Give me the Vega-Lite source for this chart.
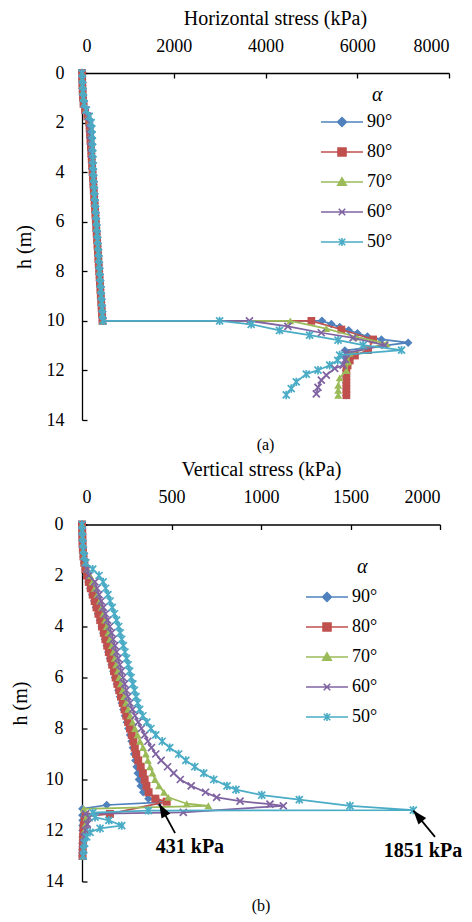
{
"$schema":"https://vega.github.io/schema/vega-lite/v6.json",
"background":"white",
"padding":{"left":10,"top":8,"right":4,"bottom":2},
"spacing":6.5,
"align":"none",
"resolve":{"scale":{"fill":"independent","stroke":"independent","shape":"independent"},"legend":{"fill":"independent","stroke":"independent","shape":"independent"}},
"config":{
 "font":"Liberation Serif",
 "view":{"stroke":null},
 "axis":{"grid":false,"domainColor":"#000","domainWidth":1.3,"tickColor":"#000","tickWidth":1.3,"tickSize":-5,"labelColor":"#000","labelFontSize":18,"titleColor":"#000","titleFontSize":20,"titleFontWeight":"normal","labelFont":"Liberation Serif","titleFont":"Liberation Serif"},
 "legend":{"titleFontStyle":"italic","titleFontSize":20,"titleFontWeight":"normal","titleColor":"#000","titleFont":"Liberation Serif","labelFont":"Liberation Serif","labelFontSize":18,"labelColor":"#000","symbolSize":441,"symbolStrokeWidth":1.6,"labelOffset":24,"rowPadding":9,"titlePadding":0,"symbolOpacity":1},
 "title":{"fontSize":16,"fontWeight":"normal","color":"#000","font":"Liberation Serif","orient":"bottom"}
},
"datasets":{
 "ha":[
{"a":"90°","h":0,"s":0},{"a":"90°","h":0.25,"s":4},{"a":"90°","h":0.5,"s":9},{"a":"90°","h":0.75,"s":15},{"a":"90°","h":1,"s":22},{"a":"90°","h":1.25,"s":35},{"a":"90°","h":1.5,"s":70},{"a":"90°","h":1.75,"s":120},{"a":"90°","h":2,"s":160},{"a":"90°","h":2.25,"s":169},{"a":"90°","h":2.5,"s":178},{"a":"90°","h":2.75,"s":187},{"a":"90°","h":3,"s":196},{"a":"90°","h":3.25,"s":205},{"a":"90°","h":3.5,"s":214},{"a":"90°","h":3.75,"s":223},{"a":"90°","h":4,"s":232},{"a":"90°","h":4.25,"s":241},{"a":"90°","h":4.5,"s":250},{"a":"90°","h":4.75,"s":259},{"a":"90°","h":5,"s":268},{"a":"90°","h":5.25,"s":277},{"a":"90°","h":5.5,"s":286},{"a":"90°","h":5.75,"s":295},{"a":"90°","h":6,"s":304},{"a":"90°","h":6.25,"s":313},{"a":"90°","h":6.5,"s":322},{"a":"90°","h":6.75,"s":331},{"a":"90°","h":7,"s":340},{"a":"90°","h":7.25,"s":349},{"a":"90°","h":7.5,"s":358},{"a":"90°","h":7.75,"s":367},{"a":"90°","h":8,"s":376},{"a":"90°","h":8.25,"s":385},{"a":"90°","h":8.5,"s":394},{"a":"90°","h":8.75,"s":403},{"a":"90°","h":9,"s":412},{"a":"90°","h":9.25,"s":421},{"a":"90°","h":9.5,"s":430},{"a":"90°","h":9.75,"s":439},{"a":"90°","h":10,"s":448},
{"a":"90°","h":10,"s":5230},{"a":"90°","h":10.13,"s":5435},{"a":"90°","h":10.25,"s":5617},{"a":"90°","h":10.38,"s":5814},{"a":"90°","h":10.5,"s":6004},{"a":"90°","h":10.63,"s":6222},{"a":"90°","h":10.75,"s":6528},{"a":"90°","h":10.88,"s":7110},{"a":"90°","h":11.2,"s":5730},{"a":"90°","h":11.5,"s":5745},{"a":"90°","h":11.75,"s":5750},{"a":"90°","h":12,"s":5755},{"a":"90°","h":12.25,"s":5760},{"a":"90°","h":12.5,"s":5760},{"a":"90°","h":12.75,"s":5760},{"a":"90°","h":13,"s":5760},
{"a":"80°","h":0,"s":0},{"a":"80°","h":0.25,"s":3},{"a":"80°","h":0.5,"s":8},{"a":"80°","h":0.75,"s":14},{"a":"80°","h":1,"s":20},{"a":"80°","h":1.25,"s":33},{"a":"80°","h":1.5,"s":66},{"a":"80°","h":1.75,"s":115},{"a":"80°","h":2,"s":156},{"a":"80°","h":2.25,"s":166},{"a":"80°","h":2.5,"s":175},{"a":"80°","h":2.75,"s":184},{"a":"80°","h":3,"s":193},{"a":"80°","h":3.25,"s":202},{"a":"80°","h":3.5,"s":211},{"a":"80°","h":3.75,"s":220},{"a":"80°","h":4,"s":229},{"a":"80°","h":4.25,"s":238},{"a":"80°","h":4.5,"s":247},{"a":"80°","h":4.75,"s":256},{"a":"80°","h":5,"s":265},{"a":"80°","h":5.25,"s":274},{"a":"80°","h":5.5,"s":283},{"a":"80°","h":5.75,"s":292},{"a":"80°","h":6,"s":301},{"a":"80°","h":6.25,"s":310},{"a":"80°","h":6.5,"s":319},{"a":"80°","h":6.75,"s":328},{"a":"80°","h":7,"s":337},{"a":"80°","h":7.25,"s":346},{"a":"80°","h":7.5,"s":355},{"a":"80°","h":7.75,"s":364},{"a":"80°","h":8,"s":373},{"a":"80°","h":8.25,"s":382},{"a":"80°","h":8.5,"s":391},{"a":"80°","h":8.75,"s":400},{"a":"80°","h":9,"s":409},{"a":"80°","h":9.25,"s":418},{"a":"80°","h":9.5,"s":427},{"a":"80°","h":9.75,"s":436},{"a":"80°","h":10,"s":445},
{"a":"80°","h":10,"s":5000},{"a":"80°","h":10.35,"s":5654},{"a":"80°","h":10.75,"s":6346},{"a":"80°","h":11.18,"s":6237},{"a":"80°","h":11.4,"s":5950},{"a":"80°","h":11.6,"s":5836},{"a":"80°","h":11.8,"s":5790},{"a":"80°","h":12,"s":5763},{"a":"80°","h":12.25,"s":5763},{"a":"80°","h":12.5,"s":5763},{"a":"80°","h":12.75,"s":5763},{"a":"80°","h":13,"s":5763},
{"a":"70°","h":0,"s":0},{"a":"70°","h":0.25,"s":5},{"a":"70°","h":0.5,"s":11},{"a":"70°","h":0.75,"s":18},{"a":"70°","h":1,"s":26},{"a":"70°","h":1.25,"s":40},{"a":"70°","h":1.5,"s":76},{"a":"70°","h":1.75,"s":126},{"a":"70°","h":2,"s":164},{"a":"70°","h":2.25,"s":172},{"a":"70°","h":2.5,"s":181},{"a":"70°","h":2.75,"s":190},{"a":"70°","h":3,"s":199},{"a":"70°","h":3.25,"s":208},{"a":"70°","h":3.5,"s":217},{"a":"70°","h":3.75,"s":226},{"a":"70°","h":4,"s":235},{"a":"70°","h":4.25,"s":244},{"a":"70°","h":4.5,"s":253},{"a":"70°","h":4.75,"s":262},{"a":"70°","h":5,"s":271},{"a":"70°","h":5.25,"s":280},{"a":"70°","h":5.5,"s":289},{"a":"70°","h":5.75,"s":298},{"a":"70°","h":6,"s":307},{"a":"70°","h":6.25,"s":316},{"a":"70°","h":6.5,"s":325},{"a":"70°","h":6.75,"s":334},{"a":"70°","h":7,"s":343},{"a":"70°","h":7.25,"s":352},{"a":"70°","h":7.5,"s":361},{"a":"70°","h":7.75,"s":370},{"a":"70°","h":8,"s":379},{"a":"70°","h":8.25,"s":388},{"a":"70°","h":8.5,"s":397},{"a":"70°","h":8.75,"s":406},{"a":"70°","h":9,"s":415},{"a":"70°","h":9.25,"s":424},{"a":"70°","h":9.5,"s":433},{"a":"70°","h":9.75,"s":442},{"a":"70°","h":10,"s":451},
{"a":"70°","h":10,"s":4540},{"a":"70°","h":10.31,"s":5326},{"a":"70°","h":10.65,"s":5982},{"a":"70°","h":10.92,"s":6638},{"a":"70°","h":11.3,"s":5836},{"a":"70°","h":11.65,"s":5800},{"a":"70°","h":12,"s":5763},{"a":"70°","h":12.3,"s":5617},{"a":"70°","h":12.6,"s":5585},{"a":"70°","h":12.8,"s":5585},{"a":"70°","h":13,"s":5585},
{"a":"60°","h":0,"s":0},{"a":"60°","h":0.25,"s":6},{"a":"60°","h":0.5,"s":13},{"a":"60°","h":0.75,"s":20},{"a":"60°","h":1,"s":29},{"a":"60°","h":1.25,"s":44},{"a":"60°","h":1.5,"s":82},{"a":"60°","h":1.75,"s":132},{"a":"60°","h":2,"s":170},{"a":"60°","h":2.25,"s":176},{"a":"60°","h":2.5,"s":184},{"a":"60°","h":2.75,"s":193},{"a":"60°","h":3,"s":202},{"a":"60°","h":3.25,"s":211},{"a":"60°","h":3.5,"s":220},{"a":"60°","h":3.75,"s":229},{"a":"60°","h":4,"s":238},{"a":"60°","h":4.25,"s":247},{"a":"60°","h":4.5,"s":256},{"a":"60°","h":4.75,"s":265},{"a":"60°","h":5,"s":274},{"a":"60°","h":5.25,"s":283},{"a":"60°","h":5.5,"s":292},{"a":"60°","h":5.75,"s":301},{"a":"60°","h":6,"s":310},{"a":"60°","h":6.25,"s":319},{"a":"60°","h":6.5,"s":328},{"a":"60°","h":6.75,"s":337},{"a":"60°","h":7,"s":346},{"a":"60°","h":7.25,"s":355},{"a":"60°","h":7.5,"s":364},{"a":"60°","h":7.75,"s":373},{"a":"60°","h":8,"s":382},{"a":"60°","h":8.25,"s":391},{"a":"60°","h":8.5,"s":400},{"a":"60°","h":8.75,"s":409},{"a":"60°","h":9,"s":418},{"a":"60°","h":9.25,"s":427},{"a":"60°","h":9.5,"s":436},{"a":"60°","h":9.75,"s":445},{"a":"60°","h":10,"s":454},
{"a":"60°","h":10,"s":3650},{"a":"60°","h":10.22,"s":4488},{"a":"60°","h":10.48,"s":5217},{"a":"60°","h":10.69,"s":5909},{"a":"60°","h":10.98,"s":6601},{"a":"60°","h":11.3,"s":5763},{"a":"60°","h":11.55,"s":5740},{"a":"60°","h":11.79,"s":5690},{"a":"60°","h":11.92,"s":5508},{"a":"60°","h":12.19,"s":5326},{"a":"60°","h":12.39,"s":5217},{"a":"60°","h":12.68,"s":5144},{"a":"60°","h":12.95,"s":5108},
{"a":"50°","h":0,"s":0},{"a":"50°","h":0.25,"s":7},{"a":"50°","h":0.5,"s":14},{"a":"50°","h":0.75,"s":22},{"a":"50°","h":1,"s":32},{"a":"50°","h":1.25,"s":50},{"a":"50°","h":1.5,"s":95},{"a":"50°","h":1.75,"s":160},{"a":"50°","h":2,"s":200},{"a":"50°","h":2.25,"s":215},{"a":"50°","h":2.5,"s":222},{"a":"50°","h":2.75,"s":226},{"a":"50°","h":3,"s":230},{"a":"50°","h":3.25,"s":235},{"a":"50°","h":3.5,"s":240},{"a":"50°","h":3.75,"s":244},{"a":"50°","h":4,"s":248},{"a":"50°","h":4.25,"s":255},{"a":"50°","h":4.5,"s":262},{"a":"50°","h":4.75,"s":270},{"a":"50°","h":5,"s":278},{"a":"50°","h":5.25,"s":287},{"a":"50°","h":5.5,"s":296},{"a":"50°","h":5.75,"s":305},{"a":"50°","h":6,"s":314},{"a":"50°","h":6.25,"s":323},{"a":"50°","h":6.5,"s":332},{"a":"50°","h":6.75,"s":341},{"a":"50°","h":7,"s":350},{"a":"50°","h":7.25,"s":359},{"a":"50°","h":7.5,"s":368},{"a":"50°","h":7.75,"s":377},{"a":"50°","h":8,"s":386},{"a":"50°","h":8.25,"s":395},{"a":"50°","h":8.5,"s":404},{"a":"50°","h":8.75,"s":413},{"a":"50°","h":9,"s":422},{"a":"50°","h":9.25,"s":431},{"a":"50°","h":9.5,"s":440},{"a":"50°","h":9.75,"s":449},{"a":"50°","h":10,"s":458},
{"a":"50°","h":10,"s":3000},{"a":"50°","h":10.14,"s":3687},{"a":"50°","h":10.38,"s":4306},{"a":"50°","h":10.58,"s":4962},{"a":"50°","h":10.78,"s":5581},{"a":"50°","h":10.98,"s":6127},{"a":"50°","h":11.18,"s":6966},{"a":"50°","h":11.38,"s":5617},{"a":"50°","h":11.59,"s":5574},{"a":"50°","h":11.79,"s":5399},{"a":"50°","h":11.99,"s":5144},{"a":"50°","h":12.15,"s":4889},{"a":"50°","h":12.46,"s":4671},{"a":"50°","h":12.73,"s":4561},{"a":"50°","h":12.99,"s":4452}
 ],
 "vb":[
{"a":"90°","h":0,"s":0},{"a":"90°","h":0.25,"s":1},{"a":"90°","h":0.5,"s":2},{"a":"90°","h":0.75,"s":3},{"a":"90°","h":1,"s":5},{"a":"90°","h":1.25,"s":8},{"a":"90°","h":1.5,"s":12},{"a":"90°","h":1.75,"s":18},{"a":"90°","h":2,"s":26},{"a":"90°","h":2.25,"s":36},{"a":"90°","h":2.5,"s":46},{"a":"90°","h":2.75,"s":57},{"a":"90°","h":3,"s":68},{"a":"90°","h":3.25,"s":78},{"a":"90°","h":3.5,"s":89},{"a":"90°","h":3.75,"s":100},{"a":"90°","h":4,"s":110},{"a":"90°","h":4.25,"s":119},{"a":"90°","h":4.5,"s":128},{"a":"90°","h":4.75,"s":138},{"a":"90°","h":5,"s":147},{"a":"90°","h":5.25,"s":156},{"a":"90°","h":5.5,"s":165},{"a":"90°","h":5.75,"s":175},{"a":"90°","h":6,"s":184},{"a":"90°","h":6.25,"s":194},{"a":"90°","h":6.5,"s":203},{"a":"90°","h":6.75,"s":212},{"a":"90°","h":7,"s":222},{"a":"90°","h":7.25,"s":231},{"a":"90°","h":7.5,"s":240},{"a":"90°","h":7.75,"s":250},{"a":"90°","h":8,"s":259},{"a":"90°","h":8.25,"s":268},{"a":"90°","h":8.5,"s":277},{"a":"90°","h":8.75,"s":284},{"a":"90°","h":9,"s":291},{"a":"90°","h":9.25,"s":298},{"a":"90°","h":9.5,"s":305},{"a":"90°","h":9.75,"s":311},{"a":"90°","h":10,"s":318},{"a":"90°","h":10.25,"s":328},{"a":"90°","h":10.5,"s":342},{"a":"90°","h":10.75,"s":371},{"a":"90°","h":10.9,"s":431},{"a":"90°","h":11,"s":138},{"a":"90°","h":11.15,"s":2},{"a":"90°","h":11.4,"s":2},{"a":"90°","h":11.6,"s":3},{"a":"90°","h":11.8,"s":3},{"a":"90°","h":12,"s":3},{"a":"90°","h":12.25,"s":3},{"a":"90°","h":12.5,"s":2},{"a":"90°","h":12.75,"s":2},{"a":"90°","h":13,"s":2},
{"a":"80°","h":0,"s":0},{"a":"80°","h":0.25,"s":1},{"a":"80°","h":0.5,"s":2},{"a":"80°","h":0.75,"s":3},{"a":"80°","h":1,"s":5},{"a":"80°","h":1.25,"s":8},{"a":"80°","h":1.5,"s":13},{"a":"80°","h":1.75,"s":19},{"a":"80°","h":2,"s":28},{"a":"80°","h":2.25,"s":38},{"a":"80°","h":2.5,"s":49},{"a":"80°","h":2.75,"s":60},{"a":"80°","h":3,"s":71},{"a":"80°","h":3.25,"s":81},{"a":"80°","h":3.5,"s":92},{"a":"80°","h":3.75,"s":102},{"a":"80°","h":4,"s":112},{"a":"80°","h":4.25,"s":122},{"a":"80°","h":4.5,"s":131},{"a":"80°","h":4.75,"s":141},{"a":"80°","h":5,"s":150},{"a":"80°","h":5.25,"s":160},{"a":"80°","h":5.5,"s":169},{"a":"80°","h":5.75,"s":179},{"a":"80°","h":6,"s":188},{"a":"80°","h":6.25,"s":198},{"a":"80°","h":6.5,"s":208},{"a":"80°","h":6.75,"s":218},{"a":"80°","h":7,"s":228},{"a":"80°","h":7.25,"s":238},{"a":"80°","h":7.5,"s":248},{"a":"80°","h":7.75,"s":258},{"a":"80°","h":8,"s":268},{"a":"80°","h":8.25,"s":278},{"a":"80°","h":8.5,"s":287},{"a":"80°","h":8.75,"s":295},{"a":"80°","h":9,"s":303},{"a":"80°","h":9.25,"s":314},{"a":"80°","h":9.5,"s":328},{"a":"80°","h":9.75,"s":340},{"a":"80°","h":10,"s":350},{"a":"80°","h":10.25,"s":360},{"a":"80°","h":10.5,"s":372},{"a":"80°","h":10.75,"s":410},{"a":"80°","h":10.87,"s":473},{"a":"80°","h":11.35,"s":156},{"a":"80°","h":11.45,"s":20},{"a":"80°","h":11.6,"s":15},{"a":"80°","h":11.8,"s":10},{"a":"80°","h":12,"s":8},{"a":"80°","h":12.25,"s":6},{"a":"80°","h":12.5,"s":5},{"a":"80°","h":12.75,"s":4},{"a":"80°","h":13,"s":3},
{"a":"70°","h":0,"s":0},{"a":"70°","h":0.25,"s":1},{"a":"70°","h":0.5,"s":2},{"a":"70°","h":0.75,"s":4},{"a":"70°","h":1,"s":6},{"a":"70°","h":1.25,"s":10},{"a":"70°","h":1.5,"s":16},{"a":"70°","h":1.75,"s":28},{"a":"70°","h":2,"s":45},{"a":"70°","h":2.25,"s":58},{"a":"70°","h":2.5,"s":72},{"a":"70°","h":2.75,"s":86},{"a":"70°","h":3,"s":100},{"a":"70°","h":3.25,"s":110},{"a":"70°","h":3.5,"s":119},{"a":"70°","h":3.75,"s":129},{"a":"70°","h":4,"s":138},{"a":"70°","h":4.25,"s":147},{"a":"70°","h":4.5,"s":156},{"a":"70°","h":4.75,"s":166},{"a":"70°","h":5,"s":175},{"a":"70°","h":5.25,"s":183},{"a":"70°","h":5.5,"s":191},{"a":"70°","h":5.75,"s":200},{"a":"70°","h":6,"s":208},{"a":"70°","h":6.25,"s":217},{"a":"70°","h":6.5,"s":227},{"a":"70°","h":6.75,"s":236},{"a":"70°","h":7,"s":246},{"a":"70°","h":7.25,"s":258},{"a":"70°","h":7.5,"s":270},{"a":"70°","h":7.75,"s":283},{"a":"70°","h":8,"s":296},{"a":"70°","h":8.25,"s":310},{"a":"70°","h":8.5,"s":324},{"a":"70°","h":8.75,"s":341},{"a":"70°","h":9,"s":357},{"a":"70°","h":9.25,"s":368},{"a":"70°","h":9.5,"s":380},{"a":"70°","h":9.75,"s":394},{"a":"70°","h":10,"s":408},{"a":"70°","h":10.25,"s":430},{"a":"70°","h":10.5,"s":458},{"a":"70°","h":10.7,"s":482},{"a":"70°","h":10.95,"s":585},{"a":"70°","h":11.03,"s":706},{"a":"70°","h":11.15,"s":10},{"a":"70°","h":11.35,"s":30},{"a":"70°","h":11.5,"s":25},{"a":"70°","h":11.75,"s":20},{"a":"70°","h":12,"s":15},{"a":"70°","h":12.25,"s":10},{"a":"70°","h":12.5,"s":8},{"a":"70°","h":12.75,"s":6},{"a":"70°","h":13,"s":5},
{"a":"60°","h":0,"s":0},{"a":"60°","h":0.25,"s":1},{"a":"60°","h":0.5,"s":2},{"a":"60°","h":0.75,"s":4},{"a":"60°","h":1,"s":7},{"a":"60°","h":1.25,"s":12},{"a":"60°","h":1.5,"s":18},{"a":"60°","h":1.75,"s":28},{"a":"60°","h":2,"s":40},{"a":"60°","h":2.25,"s":72},{"a":"60°","h":2.5,"s":84},{"a":"60°","h":2.75,"s":95},{"a":"60°","h":3,"s":108},{"a":"60°","h":3.25,"s":119},{"a":"60°","h":3.5,"s":131},{"a":"60°","h":3.75,"s":143},{"a":"60°","h":4,"s":155},{"a":"60°","h":4.25,"s":165},{"a":"60°","h":4.5,"s":174},{"a":"60°","h":4.75,"s":184},{"a":"60°","h":5,"s":193},{"a":"60°","h":5.25,"s":202},{"a":"60°","h":5.5,"s":211},{"a":"60°","h":5.75,"s":220},{"a":"60°","h":6,"s":229},{"a":"60°","h":6.25,"s":238},{"a":"60°","h":6.5,"s":247},{"a":"60°","h":6.75,"s":256},{"a":"60°","h":7,"s":268},{"a":"60°","h":7.25,"s":282},{"a":"60°","h":7.5,"s":296},{"a":"60°","h":7.75,"s":314},{"a":"60°","h":8,"s":332},{"a":"60°","h":8.25,"s":350},{"a":"60°","h":8.5,"s":368},{"a":"60°","h":8.75,"s":388},{"a":"60°","h":9,"s":412},{"a":"60°","h":9.25,"s":442},{"a":"60°","h":9.5,"s":478},{"a":"60°","h":9.75,"s":512},{"a":"60°","h":10,"s":549},{"a":"60°","h":10.25,"s":610},{"a":"60°","h":10.5,"s":690},{"a":"60°","h":10.7,"s":752},{"a":"60°","h":10.85,"s":883},{"a":"60°","h":10.97,"s":1050},{"a":"60°","h":11.03,"s":1125},{"a":"60°","h":11.29,"s":566},{"a":"60°","h":11.35,"s":20},{"a":"60°","h":11.5,"s":40},{"a":"60°","h":11.75,"s":30},{"a":"60°","h":12,"s":20},{"a":"60°","h":12.25,"s":12},{"a":"60°","h":12.5,"s":8},{"a":"60°","h":12.75,"s":6},{"a":"60°","h":13,"s":5},
{"a":"50°","h":0,"s":0},{"a":"50°","h":0.25,"s":1},{"a":"50°","h":0.5,"s":3},{"a":"50°","h":0.75,"s":5},{"a":"50°","h":1,"s":8},{"a":"50°","h":1.25,"s":13},{"a":"50°","h":1.5,"s":22},{"a":"50°","h":1.75,"s":60},{"a":"50°","h":2,"s":95},{"a":"50°","h":2.25,"s":118},{"a":"50°","h":2.5,"s":132},{"a":"50°","h":2.75,"s":145},{"a":"50°","h":3,"s":157},{"a":"50°","h":3.25,"s":169},{"a":"50°","h":3.5,"s":181},{"a":"50°","h":3.75,"s":193},{"a":"50°","h":4,"s":205},{"a":"50°","h":4.25,"s":213},{"a":"50°","h":4.5,"s":222},{"a":"50°","h":4.75,"s":231},{"a":"50°","h":5,"s":240},{"a":"50°","h":5.25,"s":249},{"a":"50°","h":5.5,"s":258},{"a":"50°","h":5.75,"s":266},{"a":"50°","h":6,"s":275},{"a":"50°","h":6.25,"s":284},{"a":"50°","h":6.5,"s":293},{"a":"50°","h":6.75,"s":302},{"a":"50°","h":7,"s":311},{"a":"50°","h":7.25,"s":322},{"a":"50°","h":7.5,"s":340},{"a":"50°","h":7.75,"s":362},{"a":"50°","h":8,"s":385},{"a":"50°","h":8.25,"s":412},{"a":"50°","h":8.5,"s":448},{"a":"50°","h":8.75,"s":490},{"a":"50°","h":9,"s":540},{"a":"50°","h":9.25,"s":580},{"a":"50°","h":9.5,"s":630},{"a":"50°","h":9.75,"s":680},{"a":"50°","h":10,"s":736},{"a":"50°","h":10.25,"s":810},{"a":"50°","h":10.4,"s":860},{"a":"50°","h":10.61,"s":1004},{"a":"50°","h":10.79,"s":1214},{"a":"50°","h":11.03,"s":1497},{"a":"50°","h":11.2,"s":1851},{"a":"50°","h":11.22,"s":371},{"a":"50°","h":11.3,"s":60},{"a":"50°","h":11.48,"s":73},{"a":"50°","h":11.6,"s":150},{"a":"50°","h":11.81,"s":222},{"a":"50°","h":11.92,"s":101},{"a":"50°","h":12.07,"s":45},{"a":"50°","h":12.25,"s":26},{"a":"50°","h":12.5,"s":15},{"a":"50°","h":12.75,"s":10},{"a":"50°","h":13,"s":8}
 ],
 "arrows":[{"s":431,"h":10.95,"s2":520,"h2":12.1},{"s":1851,"h":11.22,"s2":1972,"h2":12.25}],
 "labels":[{"s":603,"h":12.65,"t":"431 kPa"},{"s":1905,"h":12.8,"t":"1851 kPa"}]
},
"vconcat":[
{
 "width":367,"height":347,
 "title":{"text":"(a)","offset":8},
 "data":{"name":"ha"},
 "encoding":{
  "x":{"field":"s","type":"quantitative","scale":{"domain":[0,8000],"nice":false},"axis":{"orient":"top","values":[0,2000,4000,6000,8000],"format":"d","title":"Horizontal stress (kPa)","titleX":193,"labelPadding":23,"titlePadding":9}},
  "y":{"field":"h","type":"quantitative","scale":{"domain":[0,14],"reverse":true,"nice":false},"axis":{"values":[0,2,4,6,8,10,12,14],"title":"h (m)","labelPadding":23,"titlePadding":12}}
 },
 "layer":[
  {"transform":[{"filter":"datum.a=='90°'"}],"mark":{"type":"line","color":"#4F81BD","strokeWidth":1.75},"encoding":{"order":{"value":null}}},
  {"transform":[{"filter":"datum.a=='90°'"}],"mark":{"type":"point","shape":"diamond","filled":true,"size":72,"color":"#4F81BD","opacity":1}},
  {"transform":[{"filter":"datum.a=='80°'"}],"mark":{"type":"line","color":"#C0504D","strokeWidth":1.75},"encoding":{"order":{"value":null}}},
  {"transform":[{"filter":"datum.a=='80°'"}],"mark":{"type":"point","shape":"square","filled":true,"size":60,"color":"#C0504D","opacity":1}},
  {"transform":[{"filter":"datum.a=='70°'"}],"mark":{"type":"line","color":"#9BBB59","strokeWidth":1.75},"encoding":{"order":{"value":null}}},
  {"transform":[{"filter":"datum.a=='70°'"}],"mark":{"type":"point","shape":"triangle-up","filled":true,"size":64,"color":"#9BBB59","opacity":1}},
  {"transform":[{"filter":"datum.a=='60°'"}],"mark":{"type":"line","color":"#8064A2","strokeWidth":1.75},"encoding":{"order":{"value":null}}},
  {"transform":[{"filter":"datum.a=='60°'"}],"mark":{"type":"point","shape":"M-1,-1L1,1M-1,1L1,-1","filled":false,"size":49,"strokeWidth":1.75,"color":"#8064A2","opacity":1}},
  {"transform":[{"filter":"datum.a=='50°'"}],"mark":{"type":"line","color":"#4BACC6","strokeWidth":1.75},"encoding":{"order":{"value":null}}},
  {"transform":[{"filter":"datum.a=='50°'"}],"mark":{"type":"point","shape":"M-1,-1L1,1M-1,1L1,-1M0,-1.2V1.2","filled":false,"size":49,"strokeWidth":1.75,"color":"#4BACC6","opacity":1}},
  {"transform":[{"filter":"false"}],"mark":{"type":"point","filled":true,"opacity":1},
   "encoding":{
    "fill":{"field":"a","type":"nominal","scale":{"domain":["90°","80°","70°","60°","50°"],"range":["#4F81BD","#C0504D","#9BBB59","#8064A2","#4BACC6"]},"legend":{"title":"α","orient":"none","legendX":238,"legendY":17.5,"encode":{"title":{"update":{"dx":{"value":52},"dy":{"value":-5.5}}}}}},
    "stroke":{"field":"a","type":"nominal","scale":{"domain":["90°","80°","70°","60°","50°"],"range":["#4F81BD","#C0504D","#9BBB59","#8064A2","#4BACC6"]},"legend":{"title":"α","orient":"none","legendX":238,"legendY":17.5,"encode":{"title":{"update":{"dx":{"value":52},"dy":{"value":-5.5}}}}}},
    "shape":{"field":"a","type":"nominal","scale":{"domain":["90°","80°","70°","60°","50°"],"range":["M-1,0H3M1,-0.42L1.42,0L1,0.42L0.58,0Z","M-1,0H3M0.62,-0.38H1.38V0.38H0.62Z","M-1,0H3M1,-0.4L1.4,0.3H0.6Z","M-1,0H3M0.69,-0.31L1.31,0.31M0.69,0.31L1.31,-0.31","M-1,0H3M0.69,-0.31L1.31,0.31M0.69,0.31L1.31,-0.31M1,-0.38V0.38"]},"legend":{"title":"α","orient":"none","legendX":238,"legendY":17.5,"encode":{"title":{"update":{"dx":{"value":52},"dy":{"value":-5.5}}}}}}
   }}
 ]
},
{
 "width":358,"height":357,
 "title":{"text":"(b)","offset":7},
 "data":{"name":"vb"},
 "encoding":{
  "x":{"field":"s","type":"quantitative","scale":{"domain":[0,2000],"nice":false},"axis":{"orient":"top","values":[0,500,1000,1500,2000],"format":"d","title":"Vertical stress (kPa)","labelPadding":23,"titlePadding":9}},
  "y":{"field":"h","type":"quantitative","scale":{"domain":[0,14],"reverse":true,"nice":false},"axis":{"values":[0,2,4,6,8,10,12,14],"title":"h (m)","labelPadding":24,"titlePadding":15}}
 },
 "layer":[
  {"transform":[{"filter":"datum.a=='90°'"}],"mark":{"type":"line","color":"#4F81BD","strokeWidth":1.75},"encoding":{"order":{"value":null}}},
  {"transform":[{"filter":"datum.a=='90°'"}],"mark":{"type":"point","shape":"diamond","filled":true,"size":72,"color":"#4F81BD","opacity":1}},
  {"transform":[{"filter":"datum.a=='80°'"}],"mark":{"type":"line","color":"#C0504D","strokeWidth":1.75},"encoding":{"order":{"value":null}}},
  {"transform":[{"filter":"datum.a=='80°'"}],"mark":{"type":"point","shape":"square","filled":true,"size":64,"color":"#C0504D","opacity":1}},
  {"transform":[{"filter":"datum.a=='70°'"}],"mark":{"type":"line","color":"#9BBB59","strokeWidth":1.75},"encoding":{"order":{"value":null}}},
  {"transform":[{"filter":"datum.a=='70°'"}],"mark":{"type":"point","shape":"triangle-up","filled":true,"size":64,"color":"#9BBB59","opacity":1}},
  {"transform":[{"filter":"datum.a=='60°'"}],"mark":{"type":"line","color":"#8064A2","strokeWidth":1.75},"encoding":{"order":{"value":null}}},
  {"transform":[{"filter":"datum.a=='60°'"}],"mark":{"type":"point","shape":"M-1,-1L1,1M-1,1L1,-1","filled":false,"size":49,"strokeWidth":1.75,"color":"#8064A2","opacity":1}},
  {"transform":[{"filter":"datum.a=='50°'"}],"mark":{"type":"line","color":"#4BACC6","strokeWidth":1.75},"encoding":{"order":{"value":null}}},
  {"transform":[{"filter":"datum.a=='50°'"}],"mark":{"type":"point","shape":"M-1,-1L1,1M-1,1L1,-1M0,-1.2V1.2","filled":false,"size":49,"strokeWidth":1.75,"color":"#4BACC6","opacity":1}},
  {"data":{"name":"arrows"},"mark":{"type":"rule","color":"#000","strokeWidth":1.75},"encoding":{"x2":{"field":"s2"},"y2":{"field":"h2"}}},
  {"data":{"name":"arrows"},"transform":[{"filter":"datum.s<1000"}],"mark":{"type":"point","shape":"M0,0L1,2.8L-1,2.8Z","size":100,"angle":331,"filled":true,"color":"#000","opacity":1}},
  {"data":{"name":"arrows"},"transform":[{"filter":"datum.s>1000"}],"mark":{"type":"point","shape":"M0,0L1,2.8L-1,2.8Z","size":100,"angle":320,"filled":true,"color":"#000","opacity":1}},
  {"data":{"name":"labels"},"mark":{"type":"text","font":"Liberation Serif","fontWeight":"bold","fontSize":20,"color":"#000"},"encoding":{"text":{"field":"t"}}},
  {"transform":[{"filter":"false"}],"mark":{"type":"point","filled":true,"opacity":1},
   "encoding":{
    "fill":{"field":"a","type":"nominal","scale":{"domain":["90°","80°","70°","60°","50°"],"range":["#4F81BD","#C0504D","#9BBB59","#8064A2","#4BACC6"]},"legend":{"title":"α","orient":"none","legendX":223,"legendY":41,"encode":{"title":{"update":{"dx":{"value":52},"dy":{"value":-9}}}}}},
    "stroke":{"field":"a","type":"nominal","scale":{"domain":["90°","80°","70°","60°","50°"],"range":["#4F81BD","#C0504D","#9BBB59","#8064A2","#4BACC6"]},"legend":{"title":"α","orient":"none","legendX":223,"legendY":41,"encode":{"title":{"update":{"dx":{"value":52},"dy":{"value":-9}}}}}},
    "shape":{"field":"a","type":"nominal","scale":{"domain":["90°","80°","70°","60°","50°"],"range":["M-1,0H3M1,-0.42L1.42,0L1,0.42L0.58,0Z","M-1,0H3M0.62,-0.38H1.38V0.38H0.62Z","M-1,0H3M1,-0.4L1.4,0.3H0.6Z","M-1,0H3M0.69,-0.31L1.31,0.31M0.69,0.31L1.31,-0.31","M-1,0H3M0.69,-0.31L1.31,0.31M0.69,0.31L1.31,-0.31M1,-0.38V0.38"]},"legend":{"title":"α","orient":"none","legendX":223,"legendY":41,"encode":{"title":{"update":{"dx":{"value":52},"dy":{"value":-9}}}}}}
   }}
 ]
}
]
}
